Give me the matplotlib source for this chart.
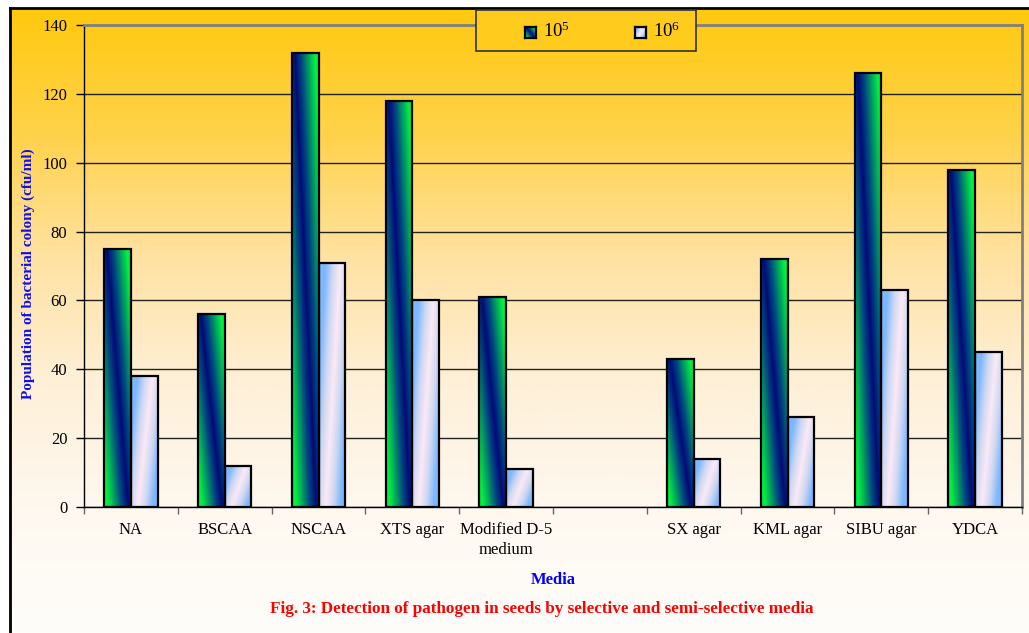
import numpy as np
import matplotlib
matplotlib.use('Agg')
import matplotlib.pyplot as plt
from matplotlib.colors import LinearSegmentedColormap
from matplotlib.patches import Rectangle

# data
media = ['NA', 'BSCAA', 'NSCAA', 'XTS agar', 'Modified D-5\nmedium', '',
         'SX agar', 'KML agar', 'SIBU agar', 'YDCA']
conc_1e5 = [75, 56, 132, 118, 61, 0, 43, 72, 126, 98]
conc_1e6 = [38, 12, 71, 60, 11, 0, 14, 26, 63, 45]
yticks = [0, 20, 40, 60, 80, 100, 120, 140]

plt.rcParams['font.family'] = ['Liberation Serif', 'DejaVu Serif']
plt.rcParams['mathtext.fontset'] = 'custom'
plt.rcParams['mathtext.rm'] = 'Liberation Serif'

W, H = 1029, 633
fig = plt.figure(figsize=(W / 100, H / 100), dpi=100)

# colour maps
bg_cmap = LinearSegmentedColormap.from_list(
    'bg', ['#ffc90e', '#ffd24a', '#ffe2a2', '#fef0d8', '#fef8ef', '#fffdfa'])
green_cmap = LinearSegmentedColormap.from_list(
    'gr', ['#000a78', '#004a80', '#00a060', '#00f040'])
pale_cmap = LinearSegmentedColormap.from_list(
    'pl', ['#fbe9f6', '#cfd8f2', '#7db8ff'])


def grad_img(kind, n=80):
    u = np.linspace(0, 1, n)[None, :]
    v = np.linspace(1, 0, n)[:, None]
    if kind == 'green':
        d = np.abs(u - (0.9 - 0.8 * v)) / 0.75
        return green_cmap(np.clip(d, 0, 1))
    d = np.abs(u - (0.25 + 0.55 * v)) / 0.55
    return pale_cmap(np.clip(d, 0, 1))


# background with frame
bgax = fig.add_axes([10 / W, 0, 1 - 10 / W, 1 - 8 / H], zorder=-1)
bgax.imshow(np.linspace(0, 1, 256)[:, None], aspect='auto', cmap=bg_cmap,
            extent=[0, 1, 0, 1])
bgax.set_xticks([])
bgax.set_yticks([])
for s in ['right', 'bottom']:
    bgax.spines[s].set_visible(False)
for s in ['left', 'top']:
    bgax.spines[s].set_linewidth(2)
    bgax.spines[s].set_color('black')

# main axes
ax = fig.add_axes([84 / W, 1 - 507 / H, 938 / W, 482 / H])
ax.patch.set_alpha(0)

x = np.arange(len(media))
w = 0.285
bars5 = ax.bar(x - w / 2, conc_1e5, w, facecolor='none', edgecolor='black',
               linewidth=1.6, zorder=3)
bars6 = ax.bar(x + w / 2, conc_1e6, w, facecolor='none', edgecolor='black',
               linewidth=1.6, zorder=3)

for bars, kind in [(bars5, 'green'), (bars6, 'pale')]:
    for b in bars:
        h = b.get_height()
        if h <= 0:
            b.set_visible(False)
            continue
        x0 = b.get_x()
        im = ax.imshow(grad_img(kind), extent=[x0, x0 + w, 0, h],
                       aspect='auto', interpolation='bilinear', zorder=2)
        im.set_clip_path(b)

ax.set_xlim(-0.5, len(media) - 0.5)
ax.set_ylim(0, 140)
ax.set_yticks(yticks)
ax.set_yticklabels([str(t) for t in yticks], fontsize=12)
ax.yaxis.grid(True, color='#222222', linewidth=1)
ax.set_axisbelow(True)
ax.tick_params(axis='y', direction='out', length=6, width=1, pad=6)

ax.set_xticks(np.arange(len(media) + 1) - 0.5)
ax.set_xticklabels([])
ax.set_xticks(x, minor=True)
ax.set_xticklabels(media, minor=True, fontsize=12, linespacing=1.3)
ax.tick_params(axis='x', which='major', direction='out', length=5,
               width=1, color='#666666')
ax.tick_params(axis='x', which='minor', length=0, pad=11)

for s in ['top', 'right']:
    ax.spines[s].set_color('#808080')
    ax.spines[s].set_linewidth(2)
for s in ['left', 'bottom']:
    ax.spines[s].set_color('black')
    ax.spines[s].set_linewidth(1)

# axis titles and caption
fig.text(28 / W, 1 - 274 / H, 'Population of bacterial colony (cfu/ml)',
         rotation=90, color='#1010ee', fontweight='bold', fontsize=11,
         ha='center', va='center')
fig.text(553 / W, 1 - 580 / H, 'Media', color='#0000ff', fontweight='bold',
         fontsize=12, ha='center', va='center')
fig.text(542 / W, 1 - 609 / H,
         'Fig. 3: Detection of pathogen in seeds by selective and semi-selective media',
         color='#ff0000', fontweight='bold', fontsize=12.3,
         ha='center', va='center')

# legend drawn by hand
fig.add_artist(Rectangle((476 / W, 1 - 51 / H), 220 / W, 41 / H,
                         transform=fig.transFigure, facecolor='#ffcc1e',
                         edgecolor='#333333', linewidth=1.2, zorder=4))
for sx, kind, lab in [(525, 'green', r'$\mathrm{10^5}$'),
                      (635, 'pale', r'$\mathrm{10^6}$')]:
    lax = fig.add_axes([sx / W, 1 - 38 / H, 11 / W, 11 / H], zorder=5)
    lax.imshow(grad_img(kind, 20), aspect='auto', interpolation='bilinear')
    lax.set_xticks([])
    lax.set_yticks([])
    for s in lax.spines.values():
        s.set_linewidth(1.6)
        s.set_color('black')
    fig.text((sx + 18) / W, 1 - 31 / H, lab, fontsize=13.5, va='center',
             ha='left', zorder=6)

fig.savefig('out.png', dpi=100)
